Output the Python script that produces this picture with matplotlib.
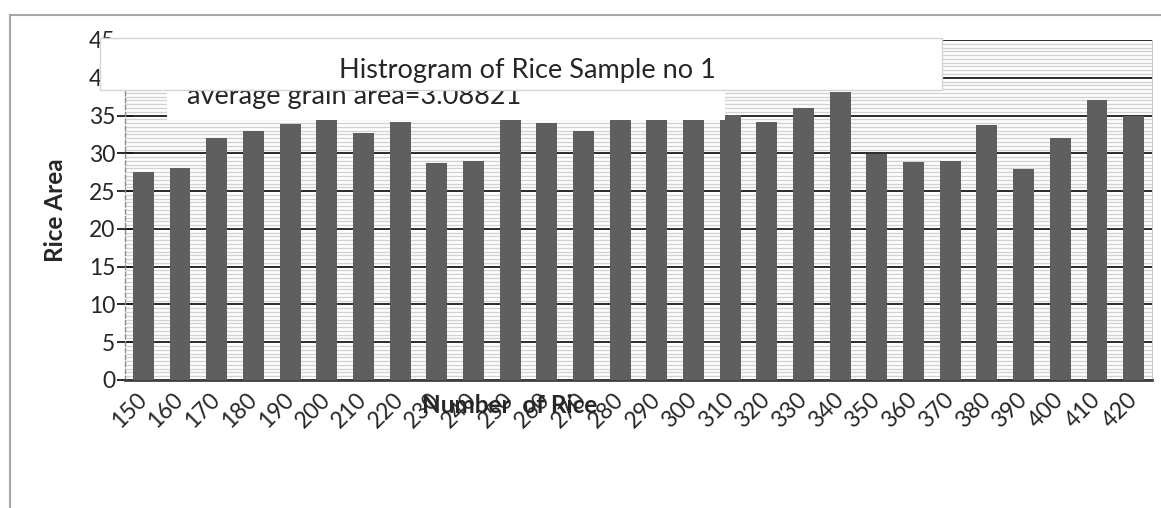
import numpy as np
import matplotlib.pyplot as plt
from matplotlib.patches import Rectangle
from matplotlib.lines import Line2D
from matplotlib.ticker import MultipleLocator

plt.rcParams['font.family'] = ['Lato', 'DejaVu Sans']

# rice grain counts and mean area per bin
grain_bins = ['150', '160', '170', '180', '190', '200', '210', '220', '230', '240',
              '250', '260', '270', '280', '290', '300', '310', '320', '330', '340',
              '350', '360', '370', '380', '390', '400', '410', '420']
rice_area = [27.5, 28.0, 32.0, 32.9, 33.9, 34.4, 32.7, 34.2, 28.7, 29.0,
             34.4, 34.0, 32.9, 34.4, 34.4, 34.4, 35.1, 34.1, 36.0, 38.1,
             29.9, 28.8, 29.0, 33.8, 27.9, 32.0, 37.0, 34.9]
y_ticks = [0, 5, 10, 15, 20, 25, 30, 35, 40, 45]

W, H = 1161, 508
fig = plt.figure(figsize=(W / 100, H / 100), dpi=100)
ax = fig.add_axes([125 / W, 1 - 380 / H, (1152 - 125) / W, (380 - 40) / H])

x = np.arange(len(grain_bins))
ax.bar(x, rice_area, width=0.57, color='#5f5f5f', zorder=3)

ax.set_xlim(-0.5, len(grain_bins) - 0.5)
ax.set_ylim(0, 45)
ax.set_yticks(y_ticks)
ax.yaxis.set_minor_locator(MultipleLocator(0.5))
ax.grid(axis='y', which='minor', color='#d2d2d2', lw=1.0, zorder=0)
ax.grid(axis='y', which='major', color='#1a1a1a', lw=1.3, zorder=1)
ax.set_axisbelow(True)

ax.set_xticks(x)
ax.set_xticklabels(grain_bins, rotation=45, ha='right', va='center',
                   rotation_mode='anchor', fontsize=16.5, color='#262626')
ax.tick_params(axis='x', length=0, pad=12)
ax.tick_params(axis='y', which='major', direction='inout', length=12,
               width=1.3, color='#1a1a1a', labelsize=16.5, labelcolor='#262626',
               pad=1)
ax.tick_params(axis='y', which='minor', length=0)

ax.spines['top'].set_visible(False)
ax.spines['right'].set_color('#c8c8c8')
ax.spines['left'].set_color('#8c8c8c')
ax.spines['left'].set_linestyle((0, (3, 2)))
ax.spines['left'].set_linewidth(1)
ax.spines['bottom'].set_color('#404040')
ax.spines['bottom'].set_linewidth(2)

ax.set_ylabel('Rice Area', fontsize=17.5, fontweight='bold', va='center',
              color='#262626')
ax.yaxis.set_label_coords(-0.068, 0.5)
ax.set_xlabel('Number  of Rice', fontsize=17.5, fontweight='bold', va='center',
              color='#262626')
ax.xaxis.set_label_coords(0.375, -0.076)

# boxes for the chart title and the average note
fig.add_artist(Rectangle((167 / W, 1 - 120 / H), 558 / W, 30 / H,
                         transform=fig.transFigure, facecolor='white',
                         edgecolor='none', zorder=5))
fig.text(187 / W, 1 - 104 / H, 'average grain area=3.08821', fontsize=19.5,
         color='#262626', va='baseline', ha='left', zorder=6)
fig.add_artist(Rectangle((100 / W, 1 - 90 / H), 842 / W, 52 / H,
                         transform=fig.transFigure, facecolor='white',
                         edgecolor='#d4d4d4', lw=1, zorder=7))
fig.text(527 / W, 1 - 78 / H, 'Histrogram of Rice Sample no 1', fontsize=19.5,
         color='#262626', va='baseline', ha='center', zorder=8)

# page frame
fig.add_artist(Line2D([10 / W, 1], [1 - 15 / H, 1 - 15 / H],
                      transform=fig.transFigure, color='#a6a6a6', lw=1.5))
fig.add_artist(Line2D([10 / W, 10 / W], [0, 1 - 15 / H],
                      transform=fig.transFigure, color='#a6a6a6', lw=1.5))

fig.savefig('out.png', dpi=100)
